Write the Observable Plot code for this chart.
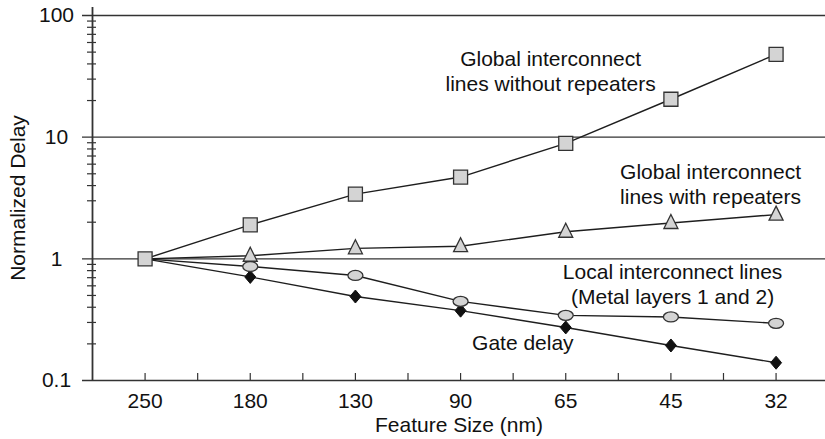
<!DOCTYPE html>
<html>
<head>
<meta charset="utf-8">
<script src="https://cdn.jsdelivr.net/npm/d3@7"></script>
<script src="https://cdn.jsdelivr.net/npm/@observablehq/plot@0.6"></script>
<style>
  html, body { margin: 0; padding: 0; background: #fff; }
  #chart svg { display: block; }
</style>
</head>
<body>
<div id="chart"></div>
<script>
// ---- data ----
const categories = ["250", "180", "130", "90", "65", "45", "32"];
const withoutRepeaters = [1, 1.9, 3.4, 4.7, 8.9, 20.5, 48];
const withRepeaters = [1, 1.06, 1.22, 1.27, 1.67, 1.97, 2.31];
const localLines = [1, 0.865, 0.73, 0.447, 0.343, 0.333, 0.295];
const gateDelay = [1, 0.71, 0.49, 0.375, 0.273, 0.194, 0.14];

const yTicks = [0.1, 1, 10, 100];
const yMinor = [0.2,0.3,0.4,0.5,0.6,0.7,0.8,0.9, 2,3,4,5,6,7,8,9, 20,30,40,50,60,70,80,90];
const xTicks = [0, 0.5, 1, 1.5, 2, 2.5, 3, 3.5, 4, 4.5, 5, 5.5, 6];

const labels = [
  {x: 3.856, y: 35.3, text: "Global interconnect\nlines without repeaters"},
  {x: 5.377, y: 4.19, text: "Global interconnect\nlines with repeaters"},
  {x: 5.016, y: 0.63, text: "Local interconnect lines\n(Metal layers 1 and 2)"},
  {x: 3.592, y: 0.206, text: "Gate delay"}
];

const seriesNames = ["without", "with", "local", "gate"];
const seriesValues = [withoutRepeaters, withRepeaters, localLines, gateDelay];
const rows = [];
seriesNames.forEach((s, k) => seriesValues[k].forEach((v, i) => rows.push({series: s, i, value: v})));

// ---- custom marker shapes ----
const squareSym = {draw(c) { const h = 7; c.moveTo(-h, -h); c.lineTo(h, -h); c.lineTo(h, h); c.lineTo(-h, h); c.closePath(); }};
const triSym = {draw(c) { c.moveTo(0, -8.5); c.lineTo(7, 5.5); c.lineTo(-7, 5.5); c.closePath(); }};
const ellSym = {draw(c) {
  const rx = 7.5, ry = 5, k = 0.5523, kx = rx * k, ky = ry * k;
  c.moveTo(rx, 0);
  c.bezierCurveTo(rx, ky, kx, ry, 0, ry);
  c.bezierCurveTo(-kx, ry, -rx, ky, -rx, 0);
  c.bezierCurveTo(-rx, -ky, -kx, -ry, 0, -ry);
  c.bezierCurveTo(kx, -ry, rx, -ky, rx, 0);
  c.closePath();
}};
const diaSym = {draw(c) { c.moveTo(0, -6.5); c.lineTo(5.5, 0); c.lineTo(0, 6.5); c.lineTo(-5.5, 0); c.closePath(); }};

const ink = "#1e1e1e";
const gridInk = "#333";
const markFill = "#d4d4d4";
const fs = 21;

const chart = Plot.plot({
  width: 825,
  height: 439,
  marginLeft: 92,
  marginRight: 0,
  marginTop: 15,
  marginBottom: 59,
  style: {fontFamily: "'Liberation Sans', Arial, Helvetica, sans-serif", background: "#fff", color: "#111"},
  x: {type: "linear", domain: [-0.5, 6.47], axis: null},
  y: {type: "log", domain: [0.1, 100], axis: null},
  marks: [
    // gridlines / bottom axis
    Plot.ruleY(yTicks, {stroke: gridInk, strokeWidth: 1.4, insetLeft: -10}),
    // minor ticks on y axis
    Plot.ruleY(yMinor, {stroke: gridInk, strokeWidth: 1.2, insetLeft: -5, insetRight: 729}),
    // y axis line
    Plot.ruleX([-0.5], {stroke: gridInk, strokeWidth: 1.8, insetTop: -8}),
    // x ticks pointing up
    Plot.ruleX(xTicks, {stroke: gridInk, strokeWidth: 1.2, insetTop: 358}),
    // y tick labels
    Plot.text(yTicks, {y: d => d, text: d => String(d), frameAnchor: "left", dx: -36, textAnchor: "middle", lineAnchor: "middle", fontSize: fs, fill: "#111"}),
    // x tick labels
    Plot.text(categories, {x: (d, i) => i, text: d => d, frameAnchor: "bottom", lineAnchor: "middle", dy: 20.5, fontSize: fs, fill: "#111"}),
    // axis titles
    Plot.text(["Feature Size (nm)"], {frameAnchor: "bottom", text: d => d, lineAnchor: "middle", textAnchor: "middle", dy: 45, fontSize: fs, fill: "#111"}),
    Plot.text(["Normalized Delay"], {frameAnchor: "left", text: d => d, textAnchor: "middle", lineAnchor: "middle", dx: -74, rotate: -90, fontSize: fs, fill: "#111"}),
    // series lines
    Plot.line(rows, {x: "i", y: "value", z: "series", stroke: ink, strokeWidth: 1.4}),
    // markers
    Plot.dot(rows.filter(d => d.series === "gate" && d.i > 0), {x: "i", y: "value", symbol: diaSym, fill: "#111", stroke: "#111", strokeWidth: 1}),
    Plot.dot(rows.filter(d => d.series === "local" && d.i > 0), {x: "i", y: "value", symbol: ellSym, fill: markFill, stroke: "#333", strokeWidth: 1.3}),
    Plot.dot(rows.filter(d => d.series === "with" && d.i > 0), {x: "i", y: "value", symbol: triSym, fill: markFill, stroke: "#333", strokeWidth: 1.3}),
    Plot.dot(rows.filter(d => d.series === "without"), {x: "i", y: "value", symbol: squareSym, fill: markFill, stroke: "#333", strokeWidth: 1.3}),
    // annotations
    Plot.text(labels, {x: "x", y: "y", text: "text", fontSize: fs, lineHeight: 1.2, textAnchor: "middle", lineAnchor: "middle", fill: "#111"})
  ]
});
document.getElementById("chart").appendChild(chart);
</script>
</body>
</html>
